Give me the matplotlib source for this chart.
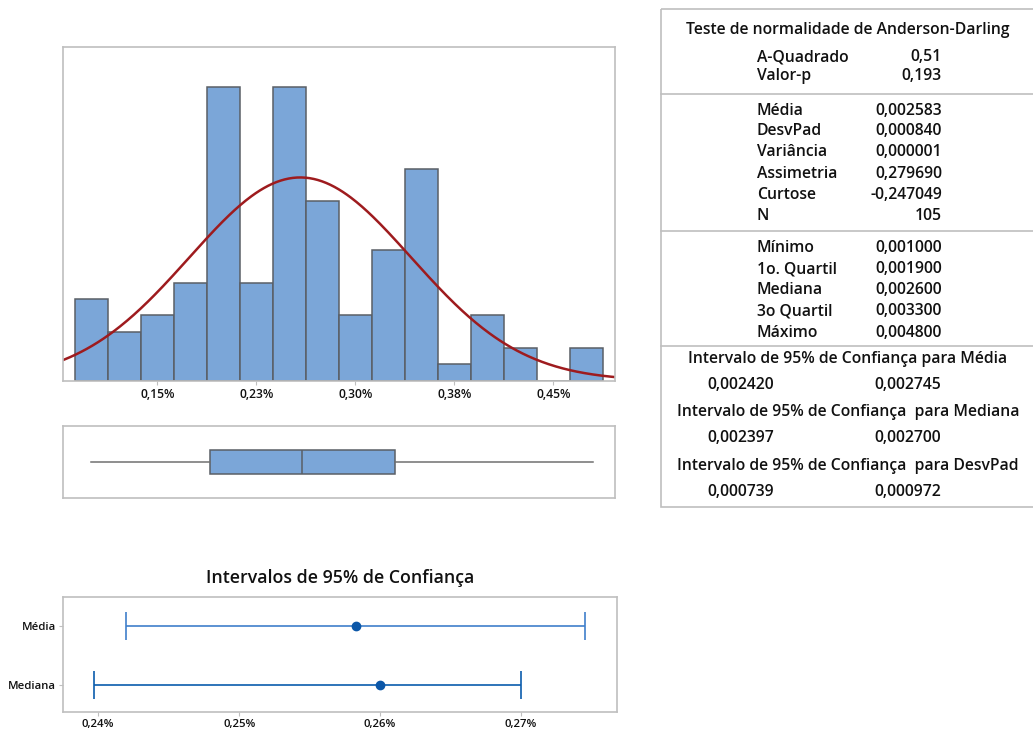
import numpy as np
import matplotlib
matplotlib.use("Agg")
import matplotlib.pyplot as plt
from matplotlib.patches import Rectangle

plt.rcParams['font.family'] = ['Open Sans', 'DejaVu Sans']

# ---- data -------------------------------------------------------------
bin_edges = [0.000875 + 0.00025 * k for k in range(17)]
bin_counts = [5, 3, 4, 6, 18, 6, 18, 11, 4, 8, 13, 1, 4, 2, 0, 2]

n_obs = 105
mean_val = 0.002583
std_val = 0.000840
q_min, q1, q_med, q3, q_max = 0.001000, 0.001900, 0.002600, 0.003300, 0.004800

hist_ticks = [0.0015, 0.00225, 0.003, 0.00375, 0.0045]
hist_tick_labels = ["0,15%", "0,23%", "0,30%", "0,38%", "0,45%"]

ci_labels = ["Mediana", "Média"]
ci_centers = [0.002600, 0.002583]
ci_low = [0.002397, 0.002420]
ci_high = [0.002700, 0.002745]
ci_ticks = [0.0024, 0.0025, 0.0026, 0.0027]
ci_tick_labels = ["0,24%", "0,25%", "0,26%", "0,27%"]

ad_rows = [("A-Quadrado", "0,51"), ("Valor-p", "0,193")]
moment_rows = [("Média", "0,002583"), ("DesvPad", "0,000840"),
               ("Variância", "0,000001"), ("Assimetria", "0,279690"),
               ("Curtose", "-0,247049"), ("N", "105")]
quantile_rows = [("Mínimo", "0,001000"), ("1o. Quartil", "0,001900"),
                 ("Mediana", "0,002600"), ("3o Quartil", "0,003300"),
                 ("Máximo", "0,004800")]
interval_rows = [("Intervalo de 95% de Confiança para Média", "0,002420", "0,002745"),
                 ("Intervalo de 95% de Confiança  para Mediana", "0,002397", "0,002700"),
                 ("Intervalo de 95% de Confiança  para DesvPad", "0,000739", "0,000972")]

# ---- style ------------------------------------------------------------
W, H = 1033, 733
BAR = "#7BA6D8"
EDGE = "#5A5F66"
FRAME = "#BFBFBF"
CURVE = "#9E1B1E"
TXT = "#111111"

fig = plt.figure(figsize=(W / 100, H / 100), dpi=100)


def px_axes(x0, y0, x1, y1):
    return fig.add_axes([x0 / W, 1 - y1 / H, (x1 - x0) / W, (y1 - y0) / H])


def frame(ax):
    for s in ax.spines.values():
        s.set_color(FRAME)
        s.set_linewidth(1.2)


xlim_main = (0.000788, 0.00497)

# ---- histogram ----------------------------------------------------------
ax_h = px_axes(63.3, 47.3, 615.3, 380.7)
widths = np.diff(bin_edges)
ax_h.bar(bin_edges[:-1], bin_counts, width=widths, align="edge",
         color=BAR, edgecolor=EDGE, linewidth=1.1)
xs = np.linspace(xlim_main[0], xlim_main[1], 400)
bw = bin_edges[1] - bin_edges[0]
pdf = np.exp(-0.5 * ((xs - mean_val) / std_val) ** 2) / (std_val * np.sqrt(2 * np.pi))
ax_h.plot(xs, pdf * n_obs * bw, color=CURVE, lw=1.8)
ax_h.set_xlim(*xlim_main)
ax_h.set_ylim(0, 20.45)
ax_h.set_yticks([])
ax_h.set_xticks(hist_ticks)
ax_h.set_xticklabels(hist_tick_labels, fontsize=8.7, fontweight="semibold", color=TXT)
ax_h.tick_params(axis="x", length=3, color=FRAME, pad=2)
frame(ax_h)

# ---- boxplot ----------------------------------------------------------
ax_b = px_axes(63.3, 426, 615.3, 498.3)
stats = [dict(whislo=q_min, q1=q1, med=q_med, q3=q3, whishi=q_max, fliers=[])]
ax_b.bxp(stats, positions=[1], widths=0.667, vert=False, patch_artist=True,
         showcaps=False,
         boxprops=dict(facecolor=BAR, edgecolor=EDGE, linewidth=1.1),
         medianprops=dict(color=EDGE, linewidth=1.1),
         whiskerprops=dict(color="#707070", linewidth=1.1))
ax_b.set_xlim(*xlim_main)
ax_b.set_ylim(0, 2)
ax_b.set_xticks([])
ax_b.set_yticks([])
frame(ax_b)

# ---- confidence intervals ---------------------------------------------
ax_c = px_axes(63, 597, 617, 712)
ci_colors = ["#0B5CAD", "#3F7FCB"]
for i in range(len(ci_labels)):
    lo = ci_centers[i] - ci_low[i]
    hi = ci_high[i] - ci_centers[i]
    ax_c.errorbar([ci_centers[i]], [i], xerr=[[lo], [hi]], fmt="none",
                  ecolor=ci_colors[i], elinewidth=1.2, capsize=10, capthick=1.2)
    ax_c.plot([ci_centers[i]], [i], "o", color="#0B57A8", ms=6)
ax_c.set_xlim(0.002375, 0.002768)
ax_c.set_ylim(-0.458, 1.491)
ax_c.set_xticks(ci_ticks)
ax_c.set_xticklabels(ci_tick_labels, fontsize=8.2, fontweight="semibold", color=TXT)
ax_c.set_yticks([0, 1])
ax_c.set_yticklabels(ci_labels, fontsize=8.2, fontweight="semibold", color=TXT)
ax_c.tick_params(length=3, color=FRAME, pad=2)
frame(ax_c)
fig.text(340 / W, 1 - 578 / H, "Intervalos de 95% de Confiança", ha="center",
         va="center", fontsize=12.8, fontweight="semibold", color=TXT)

# ---- summary table ----------------------------------------------------
ax_t = fig.add_axes([0, 0, 1, 1], facecolor="none")
ax_t.set_xlim(0, W)
ax_t.set_ylim(H, 0)
ax_t.axis("off")
ax_t.add_patch(Rectangle((660.5, 8.5), 400, 498.5, fill=False,
                         edgecolor=FRAME, lw=1.2, clip_on=True))
for y in (94, 231, 346):
    ax_t.plot([660.5, 1040], [y, y], color=FRAME, lw=1.2)

fs = 11.3
kw = dict(fontsize=fs, fontweight="semibold", color=TXT, va="center")
ax_t.text(848, 30, "Teste de normalidade de Anderson-Darling", ha="center", **kw)
lab_x, val_x = 757, 942
for (lab, val), y in zip(ad_rows, [57, 76]):
    ax_t.text(lab_x, y, lab, ha="left", **kw)
    ax_t.text(val_x, y, val, ha="right", **kw)
for (lab, val), y in zip(moment_rows, [111, 131, 152, 174, 195, 216]):
    ax_t.text(lab_x, y, lab, ha="left", **kw)
    ax_t.text(val_x, y, val, ha="right", **kw)
for (lab, val), y in zip(quantile_rows, [248, 269, 290, 311, 333]):
    ax_t.text(lab_x, y, lab, ha="left", **kw)
    ax_t.text(val_x, y, val, ha="right", **kw)
for (lab, lo, hi), y in zip(interval_rows, [359, 412, 466]):
    ax_t.text(848, y, lab, ha="center", **kw)
    ax_t.text(741, y + 26, lo, ha="center", **kw)
    ax_t.text(908, y + 26, hi, ha="center", **kw)

fig.savefig("out.png", dpi=100)
